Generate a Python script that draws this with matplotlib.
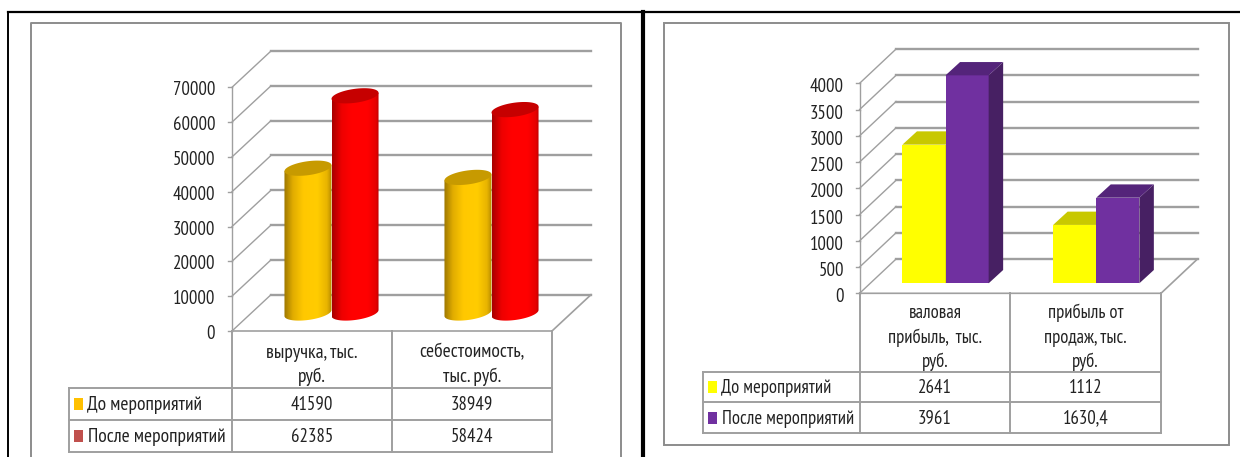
import numpy as np
import matplotlib
matplotlib.use("Agg")
import matplotlib.pyplot as plt
from matplotlib.colors import LinearSegmentedColormap
from matplotlib.patches import Polygon, Rectangle

# data
series_names = ["До мероприятий", "После мероприятий"]

left_cats = ["выручка, тыс.\nруб.", "себестоимость,\nтыс. руб."]
left_before = [41590, 38949]
left_after = [62385, 58424]
left_before_txt = ["41590", "38949"]
left_after_txt = ["62385", "58424"]
left_ticks = [0, 10000, 20000, 30000, 40000, 50000, 60000, 70000]

right_cats = ["валовая\nприбыль,  тыс.\nруб.", "прибыль от\nпродаж, тыс.\nруб."]
right_before = [2641, 1112]
right_after = [3961, 1630.4]
right_before_txt = ["2641", "1112"]
right_after_txt = ["3961", "1630,4"]
right_ticks = [0, 500, 1000, 1500, 2000, 2500, 3000, 3500, 4000]

W, H = 1240, 457
plt.rcParams["font.family"] = ["PT Sans Narrow", "Lato", "DejaVu Sans"]
GRID = "#9f9f9f"
TXT = "#222222"
FS = 13.5

fig = plt.figure(figsize=(W / 100, H / 100), dpi=100, facecolor="white")

# background axes in picture pixels, for frames and the data tables
bg = fig.add_axes([0, 0, 1, 1])
bg.set_xlim(0, W)
bg.set_ylim(H, 0)
bg.axis("off")


def draw_cyl(ax, x0, bw, val, off_x, off_y, ypp, stops, top):
    # x0, bw in category units, ypp = value units for one pixel
    cx = x0 + bw / 2 + off_x
    a = bw / 2
    b = 7 * ypp
    tilt = 3 * ypp
    t = np.linspace(0, 2 * np.pi, 80)
    low = t[t >= np.pi]
    body = np.vstack([
        np.column_stack([cx + a * np.cos(low), off_y + b * np.sin(low) + tilt * np.cos(low)]),
        [[cx + a, off_y + val + tilt], [cx - a, off_y + val - tilt]],
    ])
    cmap = LinearSegmentedColormap.from_list("c", stops)
    im = ax.imshow(np.linspace(0, 1, 128).reshape(1, -1), cmap=cmap,
                   extent=(cx - a, cx + a, off_y - 2 * b, off_y + val + 2 * b),
                   aspect="auto", interpolation="bilinear", zorder=3)
    clip = Polygon(body, closed=True, transform=ax.transData, facecolor="none", edgecolor="none")
    ax.add_patch(clip)
    im.set_clip_path(clip)
    ax.fill(cx + a * np.cos(t), off_y + val + b * np.sin(t) + tilt * np.cos(t),
            color=top, zorder=4, clip_on=False, lw=0)


def draw_box(ax, x0, bw, val, y0, dx, dy, face, side, top):
    x1 = x0 + bw
    ax.fill([x0, x1, x1, x0], [y0, y0, y0 + val, y0 + val], color=face, zorder=3, lw=0, clip_on=False)
    ax.fill([x1, x1 + dx, x1 + dx, x1], [y0, y0 + dy, y0 + val + dy, y0 + val], color=side, zorder=3, lw=0, clip_on=False)
    ax.fill([x0, x0 + dx, x1 + dx, x1], [y0 + val, y0 + val + dy, y0 + val + dy, y0 + val], color=top, zorder=3, lw=0, clip_on=False)


def panel(box, ticks, deep_px):
    x0, x1, ytop, y0 = box
    ax = fig.add_axes([x0 / W, 1 - y0 / H, (x1 - x0) / W, (y0 - ytop) / H])
    ax.patch.set_alpha(0)
    ax.set_xlim(0, 2)
    ax.set_ylim(0, ticks[-1])
    ax.axis("off")
    xpp = 2 / (x1 - x0)
    ypp = ticks[-1] / (y0 - ytop)
    dx = deep_px[0] * xpp
    dy = deep_px[1] * ypp

    # walls
    for t in ticks:
        ax.plot([0, dx], [t, t + dy], color=GRID, lw=1.0, clip_on=False, zorder=1)
        ax.plot([dx, 2 + dx], [t + dy, t + dy], color=GRID, lw=1.7, clip_on=False, zorder=1)
        ax.plot([-4 * xpp, 0], [t, t], color=GRID, lw=1.0, clip_on=False, zorder=1)
    ax.plot([0, 0], [0, ticks[-1]], color=GRID, lw=1.0, clip_on=False, zorder=1)
    ax.plot([0, 2, 2 + dx], [0, 0, dy], color=GRID, lw=1.2, clip_on=False, zorder=1)
    return ax, xpp, ypp


def table(box, rows_y, legend_x, cats, before_txt, after_txt, cat_y, key_colors, text_x, key_x, fs_text):
    x0, x1, _, y0 = box
    xm = (x0 + x1) / 2
    for xx in (x0, xm, x1):
        bg.plot([xx, xx], [y0, rows_y[2]], color=GRID, lw=1.4)
    bg.plot([legend_x, legend_x], [rows_y[0], rows_y[2]], color=GRID, lw=1.4)
    for r in rows_y:
        bg.plot([legend_x, x1], [r, r], color=GRID, lw=1.4)
    centres = [(x0 + xm) / 2, (xm + x1) / 2]
    for c, cat in zip(centres, cats):
        for yy, part in zip(cat_y, cat.split("\n")):
            bg.text(c, yy, part, ha="center", va="center", fontsize=fs_text, color=TXT)
    rows = [before_txt, after_txt]
    for k in range(2):
        ym = (rows_y[k] + rows_y[k + 1]) / 2
        for c, v in zip(centres, rows[k]):
            bg.text(c, ym + 1, v, ha="center", va="center", fontsize=FS, color=TXT)
        bg.add_patch(Rectangle((key_x, ym - 6), 9, 12, color=key_colors[k], lw=0))
        bg.text(text_x[k], ym + 1, series_names[k], ha="left", va="center", fontsize=fs_text, color=TXT)


def y_labels(ticks, box, label_x, shift):
    x0, x1, ytop, y0 = box
    for t in ticks:
        yy = y0 - (y0 - ytop) * t / ticks[-1]
        bg.text(label_x, yy + shift, str(t), ha="right", va="center", fontsize=FS, color=TXT)


# outer black lines and the two grey frames
bg.plot([8, 1240], [12, 12], color="black", lw=1.6)
bg.plot([8, 8], [12, H], color="black", lw=1.4)
bg.plot([642.5, 642.5], [12, H], color="black", lw=3)
bg.plot([30.5, 30.5, 621, 621], [H, 23, 23, H], color="#8c8c8c", lw=1.4)
bg.add_patch(Rectangle((664, 23), 564.5, 422, fill=False, ec="#8c8c8c", lw=1.4))

# left chart, cylinders
box_l = (232, 552, 87.3, 331)
ax, xpp, ypp = panel(box_l, left_ticks, (39, 36.3))
gap = .206
bw = (1 - 2 * gap) / 2
orange = [(0, "#9c7600"), (.18, "#e0ac00"), (.4, "#ffc800"), (.7, "#ffcc00"), (.9, "#e8b400"), (1, "#b58a00")]
red = [(0, "#a80000"), (.2, "#ee0000"), (.4, "#ff0000"), (.75, "#ff0000"), (.92, "#e60000"), (1, "#b00000")]
for i in range(2):
    draw_cyl(ax, i + gap, bw, left_before[i], 19.5 * xpp, 18 * ypp, ypp, orange, "#c79a00")
    draw_cyl(ax, i + gap + bw, bw, left_after[i], 19.5 * xpp, 18 * ypp, ypp, red, "#c60000")
ax.set_xlim(0, 2)
ax.set_ylim(0, left_ticks[-1])
y_labels(left_ticks, box_l, 215, 3)
table(box_l, [388, 420, 452], 68.6, left_cats, left_before_txt, left_after_txt, [352.7, 376.7],
      ["#ffc000", "#c0504d"], [87, 88], 74, 14)

# right chart, boxes
box_r = (859.6, 1161, 83.3, 293.3)
ax, xpp, ypp = panel(box_r, right_ticks, (36.5, 34.3))
gap = .214
bw = (1 - 2 * gap) / 2
for i in range(2):
    xs = i + gap + 10.6 * xpp
    base = 10 * ypp
    draw_box(ax, xs, bw, right_before[i], base, 14.5 * xpp, 13.3 * ypp, "#ffff00", "#c8c800", "#c8c800")
    draw_box(ax, xs + bw, bw, right_after[i], base, 14.5 * xpp, 13.3 * ypp, "#7030a0", "#472063", "#54247a")
y_labels(right_ticks, box_r, 844, 4)
table(box_r, [371.7, 402.3, 432.7], 702.8, right_cats, right_before_txt, right_after_txt, [313, 337.7, 362],
      ["#ffff00", "#7030a0"], [720.6, 722], 708, 13.4)

fig.savefig("out.png", dpi=100, facecolor="white")
